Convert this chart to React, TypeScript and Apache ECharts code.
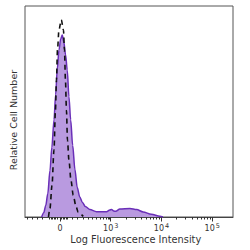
import React, { useEffect, useRef } from "react";
import * as echarts from "echarts";

// Display scale: 0 at 0, then one unit per decade (10^3 at 1, 10^4 at 2, 10^5 at 3).
const AXIS_MIN = -0.689;
const AXIS_MAX = 3.41;

// Stained sample (filled histogram): [display position, relative count]
const stained: [number, number][] = [
  [-0.36, 0], [-0.32, 2], [-0.28, 5.5], [-0.24, 11], [-0.197, 22], [-0.16, 33],
  [-0.118, 46], [-0.085, 58], [-0.053, 70], [-0.02, 79], [0.015, 84.5], [0.045, 86.2],
  [0.075, 83], [0.11, 77], [0.144, 69.6], [0.177, 57], [0.211, 46], [0.25, 34],
  [0.295, 22.5], [0.34, 14], [0.39, 9.5], [0.44, 7], [0.5, 5], [0.59, 3.5],
  [0.72, 2.5], [0.92, 2.5], [0.98, 3.3], [1.017, 3.6], [1.06, 2.8], [1.1, 2.7],
  [1.18, 3.8], [1.38, 4.0], [1.51, 3.5], [1.64, 2.4], [1.8, 1.3], [1.97, 0.3], [2.03, 0],
];

// Isotype control (dashed outline)
const control: [number, number][] = [
  [-0.226, 0], [-0.197, 4.1], [-0.157, 15], [-0.118, 31.7], [-0.089, 50.6],
  [-0.069, 64.9], [-0.049, 79.1], [-0.02, 88.6], [0.026, 93.4], [0.069, 88.6],
  [0.089, 79.1], [0.108, 64.9], [0.128, 50.6], [0.148, 36.4], [0.177, 26.9],
  [0.217, 17.4], [0.262, 10.3], [0.315, 5.1], [0.36, 2.2], [0.459, 0.3],
];

// Labelled decades
const majorTicks = [0, 1, 2, 3];
const majorLabels = ["0", "10^3", "10^4", "10^5"];

// Minor ticks of the compressed region around zero and below 10^3
const minorTicksLow = [
  -0.65, -0.551, -0.453, -0.354,
  -0.207, -0.177, -0.148, -0.118, -0.089, -0.059,
  0.03, 0.059, 0.089, 0.118, 0.148,
  0.236, 0.335, 0.453, 0.551, 0.63, 0.709, 0.787, 0.846, 0.906, 0.945, 0.974,
];
// Minor ticks within the log decades 10^3–10^5 (2..9 × 10^n)
const minorMultiples = [2, 3, 4, 5, 6, 7, 8, 9];
const logDecades = [1, 2];

const FONT = "DejaVu Sans";
const TEXT = "#333";

export default function App() {
  const ref = useRef<HTMLDivElement>(null);

  useEffect(() => {
    if (!ref.current) return;
    const chart = echarts.init(ref.current, null, { renderer: "svg" });

    const minorTicks = [
      ...minorTicksLow,
      ...logDecades.flatMap((d) => minorMultiples.map((k) => d + Math.log10(k))),
    ];

    const grid = { left: 25, right: 17, top: 6, bottom: 33 };

    chart.setOption({
      animation: false,
      backgroundColor: "#fff",
      grid: { ...grid, show: true, borderColor: "#555", borderWidth: 1, backgroundColor: "transparent" },
      xAxis: [
        {
          type: "value",
          min: AXIS_MIN,
          max: AXIS_MAX,
          axisLine: { show: true, lineStyle: { color: "#444", width: 1 } },
          splitLine: { show: false },
          axisTick: {
            show: true,
            customValues: majorTicks,
            length: 4.5,
            lineStyle: { color: "#333", width: 1 },
          },
          axisLabel: {
            show: true,
            customValues: majorTicks,
            margin: 5,
            color: TEXT,
            fontFamily: FONT,
            fontSize: 8,
            formatter: (v: number) => {
              const i = majorTicks.indexOf(Math.round(v));
              const s = majorLabels[i] ?? "";
              if (s.includes("^")) {
                const [b, e] = s.split("^");
                return `{b|${b}}{s|${e}}`;
              }
              return `{b|${s}}`;
            },
            rich: {
              b: { fontFamily: FONT, fontSize: 8, color: TEXT, lineHeight: 10, verticalAlign: "bottom" },
              s: { fontFamily: FONT, fontSize: 6.5, color: TEXT, lineHeight: 10, verticalAlign: "top", padding: [0, 0, 0, 1] },
            },
          },
        },
        {
          type: "value",
          min: AXIS_MIN,
          max: AXIS_MAX,
          position: "bottom",
          axisLine: { show: false },
          splitLine: { show: false },
          axisLabel: { show: false },
          axisTick: {
            show: true,
            customValues: minorTicks,
            length: 2.5,
            lineStyle: { color: "#333", width: 1 },
          },
        },
      ],
      yAxis: {
        type: "value",
        min: 0,
        max: 100,
        axisLine: { show: false },
        axisTick: { show: false },
        axisLabel: { show: false },
        splitLine: { show: false },
      },
      series: [
        {
          type: "line",
          name: "Stained",
          data: stained,
          smooth: 0.3,
          smoothMonotone: "x",
          symbol: "none",
          lineStyle: { color: "#6a2fb8", width: 1.5 },
          areaStyle: { color: "#b99ae0", opacity: 1 },
          z: 2,
        },
        {
          type: "line",
          name: "Control",
          data: control,
          smooth: 0.3,
          smoothMonotone: "x",
          symbol: "none",
          lineStyle: { color: "#111", width: 1.6, type: [5, 4] },
          z: 3,
        },
      ],
      graphic: [
        {
          type: "text",
          x: 13.3,
          y: 120,
          rotation: Math.PI / 2,
          style: {
            text: "Relative Cell Number",
            fontFamily: FONT,
            fontSize: 9.5,
            fill: TEXT,
            align: "center",
            verticalAlign: "middle",
          },
        },
        {
          type: "text",
          x: 135.8,
          y: 239,
          style: {
            text: "Log Fluorescence Intensity",
            fontFamily: FONT,
            fontSize: 9.8,
            fill: TEXT,
            align: "center",
            verticalAlign: "middle",
          },
        },
      ],
    });

    return () => chart.dispose();
  }, []);

  return (
    <div
      ref={ref}
      style={{ position: "fixed", left: 0, top: 0, width: 250, height: 250, background: "#fff" }}
    />
  );
}
